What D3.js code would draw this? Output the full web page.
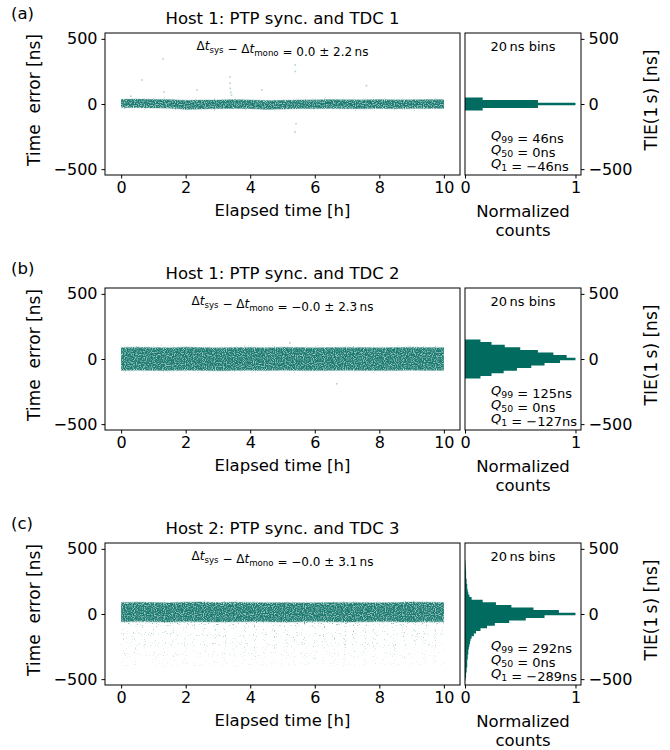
<!DOCTYPE html>
<html>
<head>
<meta charset="utf-8">
<script src="https://cdn.jsdelivr.net/npm/d3@7"></script>
<style>
body { margin: 0; background: #fff; }
text { font-family: "DejaVu Sans", sans-serif; fill: #000; }
</style>
</head>
<body>
<div id="chart"></div>
<script>
// elapsed time grid [h] for the band envelopes
var hours = [0, 0.5, 1, 1.5, 2, 2.5, 3, 3.5, 4, 4.5, 5, 5.5, 6, 6.5, 7, 7.5, 8, 8.5, 9, 9.5, 10];

// panel (a): dense band envelope [ns] + scattered outliers [h, ns]
var coreA_hi = [36, 38, 36, 34, 28, 30, 31, 34, 31, 26, 28, 31, 32, 34, 33, 32, 34, 32, 33, 34, 34];
var coreA_lo = [-28, -28, -30, -32, -42, -39, -36, -34, -36, -42, -39, -36, -36, -34, -36, -37, -34, -36, -35, -34, -34];
var outA = [[0.65, 185], [1.3, 346], [1.33, 92], [2.35, 108], [3.37, 208], [3.37, 160], [3.38, 120], [3.4, 90],
            [3.42, 70], [4.36, 108], [5.39, 300], [5.4, 250], [5.39, -215], [5.42, -150], [7.6, 140], [0.3, 60]];

// panel (b)
var coreB_hi = [88, 90, 88, 87, 90, 88, 86, 88, 89, 87, 90, 88, 87, 88, 89, 88, 87, 88, 90, 88, 88];
var coreB_lo = [-88, -86, -88, -89, -87, -88, -90, -88, -87, -89, -86, -88, -89, -88, -87, -88, -89, -88, -86, -88, -88];
var outB = [[6.68, -190], [5.23, 123]];

// panel (c): dense band + sparse cloud below it
var coreC_hi = [88, 90, 88, 87, 90, 92, 88, 90, 89, 87, 88, 86, 87, 88, 89, 88, 87, 88, 92, 90, 88];
var coreC_lo = [-60, -58, -60, -62, -58, -60, -62, -60, -58, -60, -62, -60, -58, -60, -62, -60, -58, -60, -62, -60, -60];
var cloudC_lo = [-400, -410, -400, -420, -405, -400, -410, -415, -400, -405, -410, -400, -395, -405, -410, -400, -405, -410, -400, -395, -400];

// histograms: 20 ns bin centres and normalized counts
var binsA = [-40, -20, 0, 20, 40];
var countsA = [0.16, 0.66, 1.0, 0.66, 0.16];
var binsB = [-140, -120, -100, -80, -60, -40, -20, 0, 20, 40, 60, 80, 100, 120, 140];
var countsB = [0.14, 0.24, 0.35, 0.47, 0.6, 0.72, 0.86, 1.0, 0.92, 0.8, 0.66, 0.5, 0.36, 0.24, 0.14];
var binsC = [-500, -480, -460, -440, -420, -400, -380, -360, -340, -320, -300, -280, -260, -240, -220, -200,
             -180, -160, -140, -120, -100, -80, -60, -40, -20, 0, 20, 40, 60, 80, 100, 120, 140, 160, 180,
             200, 220, 240, 260, 280, 300, 320, 340, 360, 380, 400];
var countsC = [0.005, 0.01, 0.01, 0.015, 0.015, 0.02, 0.02, 0.02, 0.025, 0.025, 0.03, 0.03, 0.035, 0.04, 0.045, 0.05,
               0.06, 0.08, 0.1, 0.14, 0.2, 0.27, 0.4, 0.55, 0.72, 1.0, 0.85, 0.62, 0.42, 0.28, 0.16, 0.06, 0.04, 0.03, 0.025,
               0.02, 0.02, 0.015, 0.015, 0.01, 0.01, 0.01, 0.008, 0.006, 0.005, 0.004];

var titles = ['Host 1: PTP sync. and TDC 1', 'Host 1: PTP sync. and TDC 2', 'Host 2: PTP sync. and TDC 3'];
var letters = ['(a)', '(b)', '(c)'];
var offsets = ['0.0 \u00b1 2.2', '\u22120.0 \u00b1 2.3', '\u22120.0 \u00b1 3.1'];
var q99 = ['46', '125', '292'];
var q50 = ['0', '0', '0'];
var q1 = ['\u221246', '\u2212127', '\u2212289'];

var xTicks = [0, 2, 4, 6, 8, 10];
var yTicks = [-500, 0, 500];
var hTicks = [0, 1];

var width = 670, height = 750;
var teal = '#006b5e';
var left = 105, right = 460, hLeft = 465, hRight = 581;
var tops = [33, 288, 543];
var ph = 142;

var svg = d3.select('#chart')
	.append('svg')
	.attr('width', width)
	.attr('height', height);

// noise texture so the filled bands look like a dense point cloud
var defs = svg.append('defs');
function speckle(id, a, b) {
	var f = defs.append('filter').attr('id', id)
		.attr('filterUnits', 'userSpaceOnUse')
		.attr('x', 0).attr('y', 0).attr('width', width).attr('height', height);
	f.append('feTurbulence').attr('type', 'fractalNoise').attr('baseFrequency', 0.9)
		.attr('numOctaves', 1).attr('seed', 4).attr('result', 'noise');
	f.append('feColorMatrix').attr('in', 'noise').attr('type', 'matrix')
		.attr('values', '0 0 0 0 0  0 0 0 0 0  0 0 0 0 0  ' + a + ' 0 0 0 ' + b).attr('result', 'mask');
	f.append('feComposite').attr('in', 'SourceGraphic').attr('in2', 'mask').attr('operator', 'in');
}
speckle('dense', 4, -1.2);
speckle('sparse', 7, -4.4);

// fading fill for the sparse tail in panel (c)
var grad = defs.append('linearGradient').attr('id', 'fade').attr('x1', 0).attr('y1', 0).attr('x2', 0).attr('y2', 1);
grad.append('stop').attr('offset', '0%').attr('stop-color', teal).attr('stop-opacity', 0.45);
grad.append('stop').attr('offset', '100%').attr('stop-color', teal).attr('stop-opacity', 0.1);

var x_scale = d3.scaleLinear().domain([-0.5, 10.5]).range([left, right]);
var h_scale = d3.scaleLinear().domain([0, 1.05]).range([hLeft, hRight]);

var panels = [
	{hi: coreA_hi, lo: coreA_lo, out: outA, bins: binsA, counts: countsA},
	{hi: coreB_hi, lo: coreB_lo, out: outB, bins: binsB, counts: countsB},
	{hi: coreC_hi, lo: coreC_lo, out: [], bins: binsC, counts: countsC, cloud: cloudC_lo}
];

function sub(t, s) {
	// italic symbol followed by a subscript
	t.append('tspan').attr('font-style', 'italic').text(s[0]);
	t.append('tspan').attr('font-size', '0.72em').attr('dy', 3).text(s[1]);
	t.append('tspan').attr('dy', -3).text('');
}

panels.forEach(function (p, i) {
	var top = tops[i];
	var y_scale = d3.scaleLinear().domain([-545, 545]).range([top + ph, top]);
	var g = svg.append('g');

	// clip to the axes box
	defs.append('clipPath').attr('id', 'clip' + i)
		.append('rect').attr('x', left).attr('y', top).attr('width', right - left).attr('height', ph);
	var plot = g.append('g').attr('clip-path', 'url(#clip' + i + ')');

	var band = function (pad) {
		return d3.area()
			.x(function (d, j) { return x_scale(hours[j]); })
			.y0(function (d, j) { return y_scale(p.lo[j] - pad); })
			.y1(function (d, j) { return y_scale(p.hi[j] + pad); });
	};

	if (p.cloud) {
		var cloudArea = d3.area()
			.x(function (d, j) { return x_scale(hours[j]); })
			.y0(function (d) { return y_scale(d); })
			.y1(function (d, j) { return y_scale(p.lo[j]); });
		plot.append('path').datum(p.cloud).attr('d', cloudArea)
			.attr('fill', 'url(#fade)').attr('filter', 'url(#sparse)');
	}
	plot.append('path').datum(hours).attr('d', band(16))
		.attr('fill', teal).attr('opacity', 0.3).attr('filter', 'url(#sparse)');
	plot.append('path').datum(hours).attr('d', band(5))
		.attr('fill', teal).attr('opacity', 0.2);
	plot.append('path').datum(hours).attr('d', band(0))
		.attr('fill', teal).attr('opacity', 0.8).attr('filter', 'url(#dense)');
	plot.append('path').datum(hours).attr('d', band(-10))
		.attr('fill', teal).attr('opacity', 0.25);

	plot.selectAll('circle.out')
		.data(p.out)
		.enter()
		.append('circle')
		.attr('cx', function (d) { return x_scale(d[0]); })
		.attr('cy', function (d) { return y_scale(d[1]); })
		.attr('r', 0.9)
		.attr('fill', teal)
		.attr('opacity', 0.3);

	// histogram as a stepfilled outline
	var pts = [];
	p.bins.forEach(function (c, j) {
		pts.push([h_scale(p.counts[j]), y_scale(c - 10)]);
		pts.push([h_scale(p.counts[j]), y_scale(c + 10)]);
	});
	pts.push([h_scale(0), y_scale(p.bins[p.bins.length - 1] + 10)]);
	pts.push([h_scale(0), y_scale(p.bins[0] - 10)]);
	g.append('path').attr('d', d3.line()(pts) + 'Z').attr('fill', teal);

	// frames
	g.append('rect').attr('x', left).attr('y', top).attr('width', right - left).attr('height', ph)
		.attr('fill', 'none').attr('stroke', '#000').attr('stroke-width', 1);
	g.append('rect').attr('x', hLeft).attr('y', top).attr('width', hRight - hLeft).attr('height', ph)
		.attr('fill', 'none').attr('stroke', '#000').attr('stroke-width', 1);

	// axes
	var fmt = d3.format('d');
	var yl = g.append('g').attr('transform', 'translate(' + left + ',0)')
		.call(d3.axisLeft(y_scale).tickValues(yTicks).tickFormat(fmt).tickSize(3.5).tickPadding(4));
	var yr = g.append('g').attr('transform', 'translate(' + hRight + ',0)')
		.call(d3.axisRight(y_scale).tickValues(yTicks).tickFormat(fmt).tickSize(3.5).tickPadding(4));
	var xb = g.append('g').attr('transform', 'translate(0,' + (top + ph) + ')')
		.call(d3.axisBottom(x_scale).tickValues(xTicks).tickFormat(fmt).tickSize(3.5).tickPadding(3.5));
	var hb = g.append('g').attr('transform', 'translate(0,' + (top + ph) + ')')
		.call(d3.axisBottom(h_scale).tickValues(hTicks).tickFormat(fmt).tickSize(3.5).tickPadding(3.5));
	[yl, yr, xb, hb].forEach(function (a) {
		a.select('.domain').remove();
		a.selectAll('text').attr('font-size', 16).attr('font-family', '"DejaVu Sans", sans-serif').attr('fill', '#000');
	});

	// texts
	g.append('text').attr('x', 11).attr('y', top - 14).attr('font-size', 16.5).text(letters[i]);
	g.append('text').attr('x', (left + right) / 2).attr('y', top - 9).attr('text-anchor', 'middle')
		.attr('font-size', 16.5).text(titles[i]);
	g.append('text').attr('x', (left + right) / 2).attr('y', top + 183).attr('text-anchor', 'middle')
		.attr('font-size', 16.5).text('Elapsed time [h]');
	g.append('text').attr('x', (hLeft + hRight) / 2).attr('y', top + 184).attr('text-anchor', 'middle')
		.attr('font-size', 16.5).text('Normalized');
	g.append('text').attr('x', (hLeft + hRight) / 2).attr('y', top + 203).attr('text-anchor', 'middle')
		.attr('font-size', 16.5).text('counts');
	g.append('text').attr('transform', 'translate(40,' + (top + 67) + ') rotate(-90)')
		.attr('text-anchor', 'middle').attr('font-size', 17).style('white-space', 'pre')
		.text('Time  error [ns]');
	g.append('text').attr('transform', 'translate(657,' + (top + 67) + ') rotate(-90)')
		.attr('text-anchor', 'middle').attr('font-size', 17).style('white-space', 'pre')
		.text('TIE(1\u2009s) [ns]');

	var dt = g.append('text').attr('x', (left + right) / 2).attr('y', top + 17)
		.attr('text-anchor', 'middle').attr('font-size', 12);
	dt.append('tspan').text('\u0394');
	sub(dt, ['t', 'sys']);
	dt.append('tspan').text(' \u2212 \u0394');
	sub(dt, ['t', 'mono']);
	dt.append('tspan').text(' = ' + offsets[i] + '\u2009ns');

	g.append('text').attr('x', (hLeft + hRight) / 2).attr('y', top + 18).attr('text-anchor', 'middle')
		.attr('font-size', 13).text('20\u2009ns bins');

	[['99', q99[i]], ['50', q50[i]], ['1', q1[i]]].forEach(function (q, k) {
		var t = g.append('text').attr('x', 491).attr('y', top + 107 + k * 14).attr('font-size', 13);
		sub(t, ['Q', q[0]]);
		t.append('tspan').text(' = ' + q[1] + 'ns');
	});
});
</script>
</body>
</html>
